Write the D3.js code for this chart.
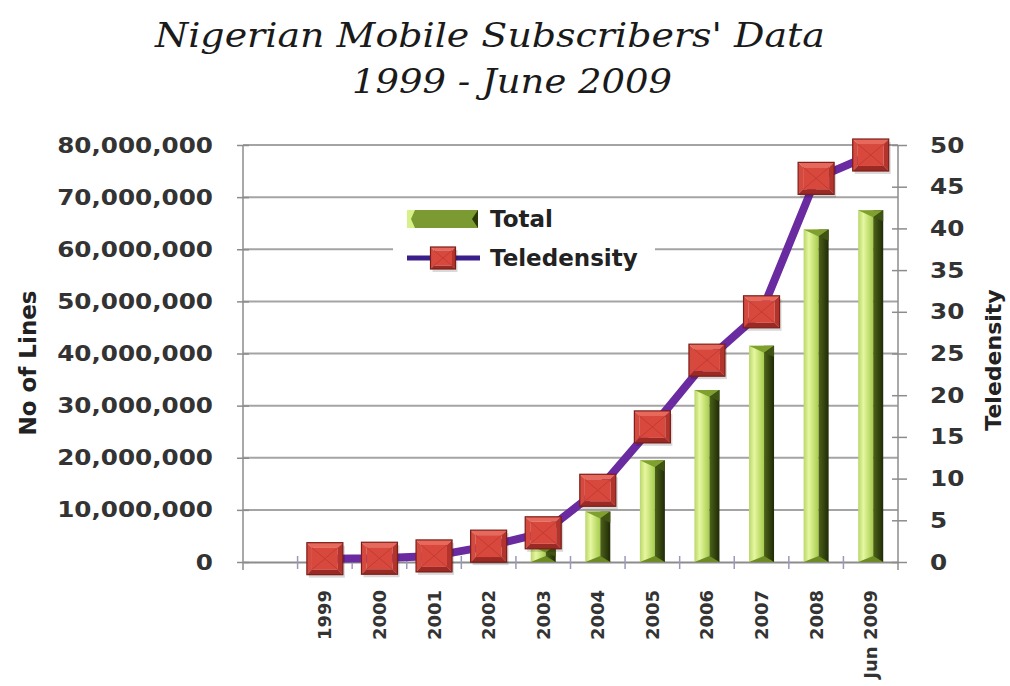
<!DOCTYPE html>
<html>
<head>
<meta charset="utf-8">
<script src="https://cdn.jsdelivr.net/npm/d3@7/dist/d3.min.js"></script>
<style>
  html, body { margin: 0; padding: 0; background: #fff; }
  svg { display: block; }
  .tick text { font-family: "DejaVu Sans", sans-serif; font-weight: bold; fill: #333; }
</style>
</head>
<body>
<svg id="chart" width="1010" height="686"></svg>
<script>
// Category slots along the x axis (the first slot is left empty, as in the workbook)
const categories = ["", "1999", "2000", "2001", "2002", "2003", "2004", "2005", "2006", "2007", "2008", "Jun 2009"];
const years = ["1999", "2000", "2001", "2002", "2003", "2004", "2005", "2006", "2007", "2008", "Jun 2009"];

// Total mobile lines per year
const totalLines = [35000, 30000, 270000, 1570000, 3150000, 9700000, 19500000, 33000000, 41500000, 63800000, 67500000];
// Teledensity (lines per 100 inhabitants)
const teledensity = [0.4, 0.45, 0.73, 1.9, 3.5, 8.6, 16.2, 24.2, 30.0, 46.0, 48.8];

// Axis ticks
const leftTicks = [0, 10000000, 20000000, 30000000, 40000000, 50000000, 60000000, 70000000, 80000000];
const rightTicks = [0, 5, 10, 15, 20, 25, 30, 35, 40, 45, 50];

const titleLines = ["Nigerian Mobile Subscribers' Data", "1999 - June 2009"];

const svg = d3.select("#chart");
const plot = { left: 243, right: 898, top: 145, bottom: 562 };

const x = d3.scaleBand().domain(categories).range([plot.left, plot.right]).padding(0);
const yL = d3.scaleLinear().domain([0, 80000000]).range([plot.bottom, plot.top]);
const yR = d3.scaleLinear().domain([0, 50]).range([plot.bottom, plot.top]);

// ---- gradients ----
const defs = svg.append("defs");
const gLight = defs.append("linearGradient").attr("id", "barLight").attr("x1", "0").attr("x2", "1").attr("y1", "0").attr("y2", "0");
gLight.append("stop").attr("offset", "0%").attr("stop-color", "#b9d66a");
gLight.append("stop").attr("offset", "35%").attr("stop-color", "#e6f7a0");
gLight.append("stop").attr("offset", "100%").attr("stop-color", "#a6cc4c");
const gDark = defs.append("linearGradient").attr("id", "barDark").attr("x1", "0").attr("x2", "1").attr("y1", "0").attr("y2", "0");
gDark.append("stop").attr("offset", "0%").attr("stop-color", "#4d6318");
gDark.append("stop").attr("offset", "100%").attr("stop-color", "#1f2a07");

// ---- title ----
const title = svg.append("g").attr("font-family", "'DejaVu Serif', serif").attr("font-style", "italic")
  .attr("font-size", 34).attr("fill", "#1a1a1a");
title.append("text").attr("x", 490).attr("y", 47).attr("text-anchor", "middle")
  .attr("textLength", 670).attr("lengthAdjust", "spacingAndGlyphs").text(titleLines[0]);
title.append("text").attr("x", 512).attr("y", 93).attr("text-anchor", "middle")
  .attr("textLength", 320).attr("lengthAdjust", "spacingAndGlyphs").text(titleLines[1]);

// ---- gridlines ----
svg.append("g").selectAll("line").data(leftTicks.filter(d => d > 0)).join("line")
  .attr("x1", plot.left).attr("x2", plot.right)
  .attr("y1", d => yL(d)).attr("y2", d => yL(d))
  .attr("stroke", "#a4a4a4").attr("stroke-width", 2);

// ---- left axis ----
const axL = svg.append("g").attr("transform", `translate(${plot.left},0)`)
  .call(d3.axisLeft(yL).tickValues(leftTicks).tickFormat(d3.format(",")).tickSize(6).tickPadding(24));
axL.select(".domain").remove();
axL.selectAll(".tick line").attr("x1", 6).attr("stroke", "#8c8c8c").attr("stroke-width", 1.5);
axL.selectAll(".tick text").attr("font-size", 22).attr("fill", "#333").each(function () {
  const w = this.getComputedTextLength();
  d3.select(this).attr("textLength", w * 1.12).attr("lengthAdjust", "spacingAndGlyphs");
});
svg.append("line").attr("x1", plot.left).attr("x2", plot.left).attr("y1", plot.top).attr("y2", plot.bottom + 8)
  .attr("stroke", "#8c8c8c").attr("stroke-width", 1.5);

// ---- right axis ----
const axR = svg.append("g").attr("transform", `translate(${plot.right},0)`)
  .call(d3.axisRight(yR).tickValues(rightTicks).tickSize(9).tickPadding(23));
axR.select(".domain").remove();
axR.selectAll(".tick line").attr("x1", -6).attr("stroke", "#8c8c8c").attr("stroke-width", 1.5);
axR.selectAll(".tick text").attr("font-size", 22).attr("fill", "#333").each(function () {
  const w = this.getComputedTextLength();
  d3.select(this).attr("textLength", w * 1.12).attr("lengthAdjust", "spacingAndGlyphs");
});
svg.append("line").attr("x1", plot.right).attr("x2", plot.right).attr("y1", plot.top).attr("y2", plot.bottom + 8)
  .attr("stroke", "#8c8c8c").attr("stroke-width", 1.5);

// ---- x axis ----
const axX = svg.append("g").attr("transform", `translate(0,${plot.bottom})`)
  .call(d3.axisBottom(x).tickSize(0).tickPadding(0));
axX.select(".domain").attr("stroke", "#8c8c8c").attr("stroke-width", 2);
axX.selectAll(".tick text")
  .attr("transform", "rotate(-90)")
  .attr("x", -28).attr("y", 0).attr("dy", "0.36em")
  .attr("text-anchor", "end")
  .attr("font-size", 18).attr("fill", "#333");
// boundary ticks between category slots
svg.append("g").selectAll("line").data(categories.slice(0, -1)).join("line")
  .attr("x1", d => x(d) + x.bandwidth()).attr("x2", d => x(d) + x.bandwidth())
  .attr("y1", plot.bottom - 6).attr("y2", plot.bottom + 7)
  .attr("stroke", "#9a9ab8").attr("stroke-width", 1.5);

// ---- bars (Total) ----
const barW = 25;
const bars = svg.append("g").selectAll("g").data(years.map((c, i) => ({ c, v: totalLines[i] }))).join("g")
  .attr("transform", d => `translate(${x(d.c) + x.bandwidth() / 2 - barW / 2},0)`);
bars.append("rect").attr("x", 0).attr("width", barW * 0.6)
  .attr("y", d => yL(d.v)).attr("height", d => yL(0) - yL(d.v)).attr("fill", "url(#barLight)");
bars.append("rect").attr("x", barW * 0.6).attr("width", barW * 0.4)
  .attr("y", d => yL(d.v)).attr("height", d => yL(0) - yL(d.v)).attr("fill", "url(#barDark)");
// bevelled cap and foot
bars.append("path").attr("fill", "#7f9f2e").attr("d", d => {
  const t = yL(d.v), h = Math.min(7, (yL(0) - t) / 2);
  return `M0,${t}L${barW},${t}L${barW * 0.6},${t + h}Z`;
});
bars.append("path").attr("fill", "#3f5412").attr("d", d => {
  const t = yL(d.v), h = Math.min(7, (yL(0) - t) / 2);
  return `M${barW * 0.6},${t + h}L${barW},${t}L${barW},${t + h * 1.6}Z`;
});
bars.append("path").attr("fill", "#6d8c26").attr("d", d => {
  const b = yL(0), h = Math.min(6, (b - yL(d.v)) / 2);
  return `M0,${b}L${barW},${b}L${barW * 0.6},${b - h}Z`;
});

// ---- teledensity line ----
const pts = years.map((c, i) => [x(c) + x.bandwidth() / 2, yR(teledensity[i])]);
svg.append("path").datum(pts).attr("d", d3.line())
  .attr("fill", "none").attr("stroke", "#6a2aa0").attr("stroke-width", 8).attr("stroke-linejoin", "round");

// bevelled square marker
function marker(g, cx, cy, w, h) {
  const x0 = cx - w / 2, x1 = cx + w / 2, y0 = cy - h / 2, y1 = cy + h / 2;
  const b = Math.max(3, w * 0.14);
  const ix0 = x0 + b, ix1 = x1 - b, iy0 = y0 + b, iy1 = y1 - b;
  const m = g.append("g");
  m.append("rect").attr("x", x0 + 2).attr("y", y0 + 3).attr("width", w).attr("height", h)
    .attr("fill", "#000").attr("opacity", 0.15);
  m.append("path").attr("fill", "#e8695c").attr("d", `M${x0},${y0}L${x1},${y0}L${ix1},${iy0}L${ix0},${iy0}Z`);
  m.append("path").attr("fill", "#d54a3f").attr("d", `M${x0},${y0}L${ix0},${iy0}L${ix0},${iy1}L${x0},${y1}Z`);
  m.append("path").attr("fill", "#b3342c").attr("d", `M${x1},${y0}L${x1},${y1}L${ix1},${iy1}L${ix1},${iy0}Z`);
  m.append("path").attr("fill", "#9c2a24").attr("d", `M${x0},${y1}L${ix0},${iy1}L${ix1},${iy1}L${x1},${y1}Z`);
  m.append("path").attr("fill", "#d9483d").attr("d", `M${ix0},${iy0}L${ix1},${iy0}L${ix1},${iy1}L${ix0},${iy1}Z`);
  m.append("path").attr("fill", "none").attr("stroke", "#c23b32").attr("stroke-width", 1)
    .attr("d", `M${ix0},${iy0}L${ix1},${iy1}M${ix1},${iy0}L${ix0},${iy1}`);
  m.append("rect").attr("x", x0).attr("y", y0).attr("width", w).attr("height", h)
    .attr("fill", "none").attr("stroke", "#7a1d18").attr("stroke-width", 1.2);
}
const mk = svg.append("g");
pts.forEach(p => marker(mk, p[0], p[1], 36, 32));

// ---- legend ----
const lg = svg.append("g");
lg.append("rect").attr("x", 393).attr("y", 201).attr("width", 262).attr("height", 74).attr("fill", "#fff");
lg.append("rect").attr("x", 407).attr("y", 210).attr("width", 71).attr("height", 18).attr("fill", "#7b9a32");
lg.append("path").attr("fill", "#d8f08a").attr("d", "M407,210L415,210L411,219L415,228L407,228Z");
lg.append("path").attr("fill", "#2a3808").attr("d", "M478,210L478,228L472,219Z");
lg.append("line").attr("x1", 407).attr("x2", 480).attr("y1", 258).attr("y2", 258)
  .attr("stroke", "#3a1f8a").attr("stroke-width", 5);
marker(lg, 443, 258, 25, 22);
lg.selectAll("text.lbl").data(["Total", "Teledensity"]).join("text")
  .attr("x", 490).attr("y", (d, i) => i === 0 ? 219 : 258).attr("dy", "0.36em")
  .attr("font-family", "'DejaVu Sans', sans-serif").attr("font-weight", "bold").attr("font-size", 23)
  .attr("fill", "#222").text(d => d);

// ---- axis titles ----
svg.append("text").attr("transform", "translate(28,363) rotate(-90)")
  .attr("text-anchor", "middle").attr("dy", "0.36em")
  .attr("font-family", "'DejaVu Sans', sans-serif").attr("font-weight", "bold").attr("font-size", 23)
  .attr("fill", "#222").text("No of Lines");
svg.append("text").attr("transform", "translate(993,360) rotate(-90)")
  .attr("text-anchor", "middle").attr("dy", "0.36em")
  .attr("font-family", "'DejaVu Sans', sans-serif").attr("font-weight", "bold").attr("font-size", 22)
  .attr("fill", "#222").text("Teledensity");
</script>
</body>
</html>
